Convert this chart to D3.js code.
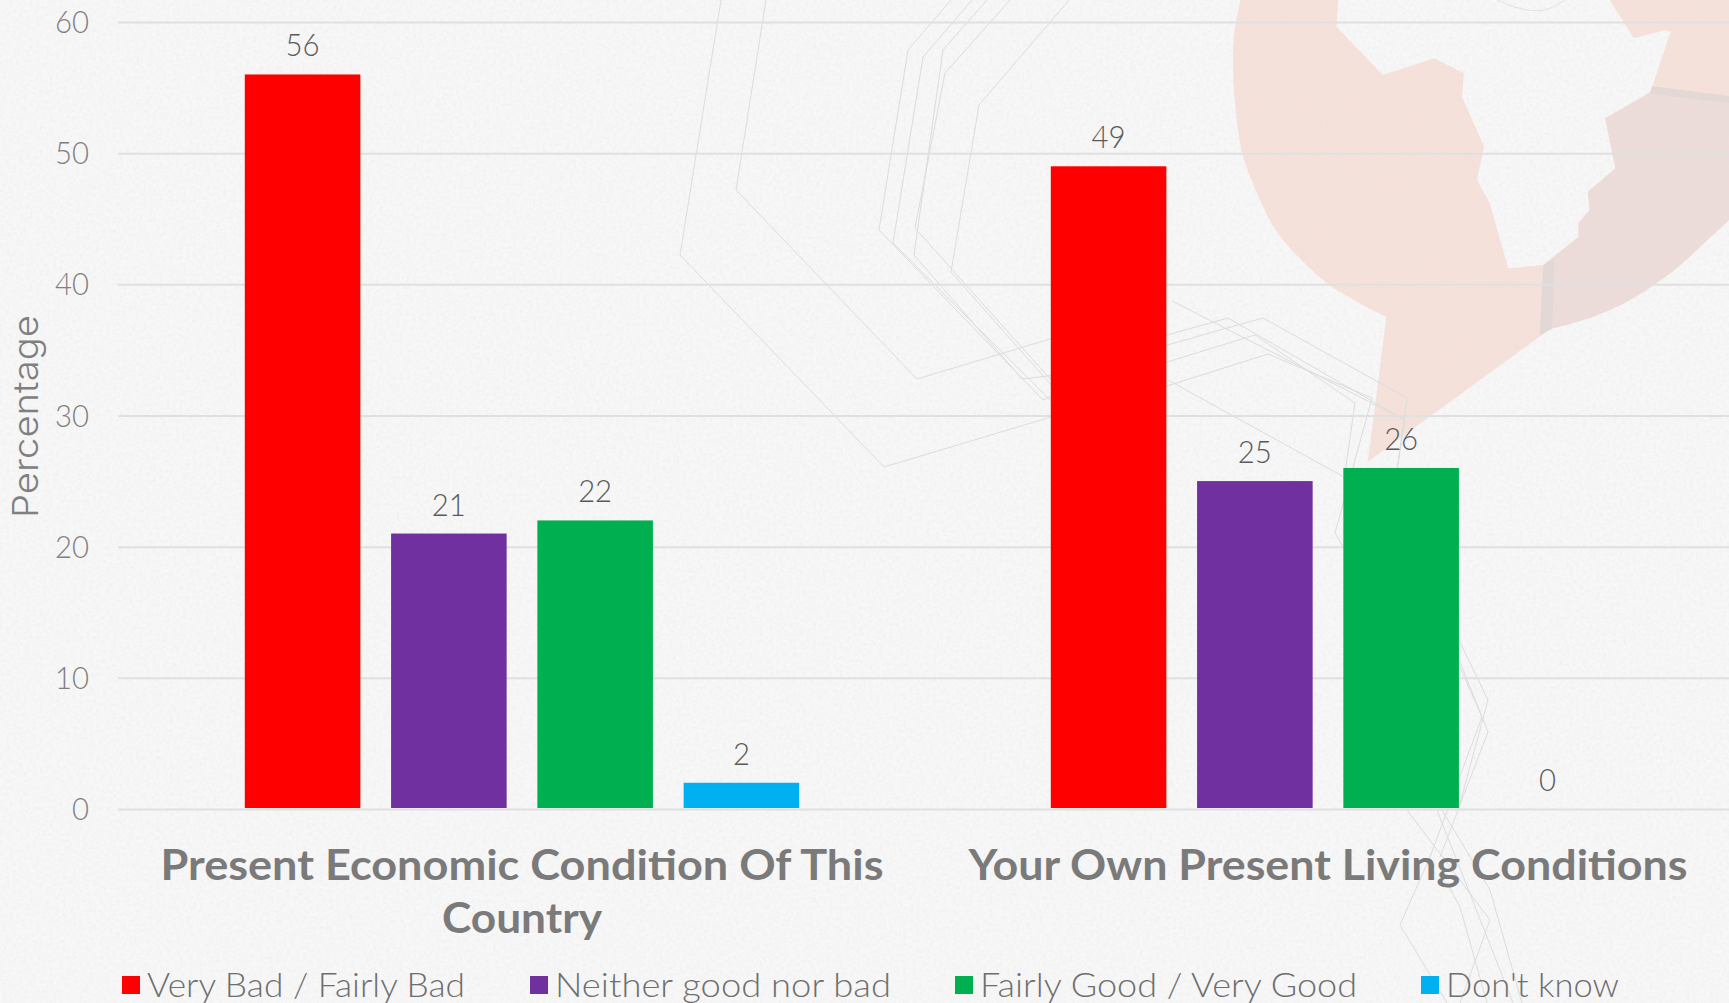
<!DOCTYPE html>
<html><head><meta charset="utf-8">
<script src="https://cdn.jsdelivr.net/npm/d3@7"></script>
<style>
html,body{margin:0;padding:0;background:#f7f7f7;overflow:hidden}
svg{display:block}
</style></head><body>
<svg id="c" width="1729" height="1003" font-family="Lato, 'Open Sans', sans-serif"></svg>
<script>
// ---- data ----
const categories = ["Present Economic Condition Of This Country", "Your Own Present Living Conditions"];
const seriesNames = ["Very Bad / Fairly Bad", "Neither good nor bad", "Fairly Good / Very Good", "Don't know"];
const veryBad = [56, 49];
const neither = [21, 25];
const fairlyGood = [22, 26];
const dontKnow = [2, 0];
const yTicks = [0, 10, 20, 30, 40, 50, 60];
const seriesColors = ["#ff0000", "#7030a0", "#00b050", "#00b0f0"];
const seriesValues = [veryBad, neither, fairlyGood, dontKnow];

// ---- layout ----
const svg = d3.select("#c");
const x0 = d3.scaleBand().domain(categories).range([119, 1731]);
const x1 = d3.scaleBand().domain(seriesNames).range([0, x0.bandwidth()]).paddingInner(0.21).paddingOuter(0.86);
const y = d3.scaleLinear().domain([0, 60]).range([809, 22]);

// ---- background decoration ----
const bg = svg.append("g");
bg.append("rect").attr("width", 1729).attr("height", 1003).attr("fill", "#f7f7f7");
const defs = svg.append("defs");
const f = defs.append("filter").attr("id", "grain").attr("x", 0).attr("y", 0).attr("width", "100%").attr("height", "100%");
f.append("feTurbulence").attr("type", "fractalNoise").attr("baseFrequency", 0.3).attr("numOctaves", 3).attr("seed", 4);
f.append("feColorMatrix").attr("type", "matrix").attr("values", "0 0 0 0 0.72  0 0 0 0 0.72  0 0 0 0 0.72  1.6 0 0 0 -0.62");

const z = p => [1150 + p[0] / 2.708, p[1] / 3];
const poly = d3.line();
const smooth = d3.line().curve(d3.curveCatmullRom);
const shape = (pts, fill) => bg.append("path").attr("d", poly(pts.map(z)) + "Z").attr("fill", fill);
const arcLeft = [[245,0],[228,100],[225,210],[232,330],[250,460],[290,580],[340,690],[410,780],[480,850],[560,905],[640,950]];
const arcRight = [[1090,985],[1200,950],[1300,900],[1420,810],[1500,730],[1568,660]];
const pinPath = smooth(arcLeft.map(z)) + poly([[590,1385],[1055,1010]].map(z)).replace("M", "L") + smooth(arcRight.map(z)).replace("M", "L");
bg.append("path").attr("d", pinPath + "L" + z([1568,0]).join(",") + "Z").attr("fill", "#f6e1da");
const darkEdge = [[1090,985],[1095,780],[1065,795],[1160,710],[1160,670],[1190,630],[1185,575],[1260,505],[1232,355],[1355,280],[1568,305],[1568,660]];
bg.append("path").attr("d", poly(darkEdge.map(z)) + smooth(arcRight.slice().reverse().map(z)).replace("M", "L") + "Z").attr("fill", "#eddcd9");
shape([[1065,795],[1095,775],[1090,985],[1055,1005]], "#e2d8d5");
shape([[1355,258],[1568,288],[1568,310],[1345,280]], "#e3d8d5");
shape([[510,0],[505,80],[630,225],[770,175],[850,220],[845,290],[905,440],[885,540],[920,610],[970,805],[1065,795],[1160,710],[1160,670],[1190,630],[1185,575],[1260,505],[1232,355],[1355,275],[1410,95],[1395,90],[1310,115],[1245,0]], "#f7f7f7");

const faint = [
 [[721,0],[680,255],[884,467],[1051,417],[1167,386],[1268,354],[1372,398],[1335,533],[1345,550]],
 [[766,0],[736,190],[917,379],[1050,339],[1167,335],[1228,318],[1405,420],[1397,470]],
 [[951,0],[908,50],[879,230],[1043,400],[1167,345],[1263,318],[1407,398],[1397,470]],
 [[972,0],[923,57],[893,243],[1060,410]],
 [[987,0],[943,50],[914,255],[1022,379],[1167,362],[1255,335],[1355,403],[1344,480]],
 [[1010,0],[945,73],[915,228],[1060,390]],
 [[1069,0],[979,105],[951,272],[1060,395]],
 [[1172,301],[1405,420]],
 [[1168,380],[1344,477]],
 [[1459,640],[1488,700],[1459,807]],
 [[1460,662],[1488,732],[1440,857]],
 [[1460,667],[1482,717],[1430,857],[1400,925],[1447,1003]],
 [[1407,810],[1490,920],[1460,1003]],
 [[1437,810],[1513,1003]],
 [[1442,810],[1490,890],[1522,1003]],
 [[1447,883],[1460,907],[1487,1003]]
];
bg.selectAll("path.faint").data(faint).join("path").attr("class","faint")
  .attr("d", poly).attr("fill","none").attr("stroke","#dcdcdc").attr("stroke-width",1);
bg.append("path").attr("d", d3.line().curve(d3.curveBasis)([[1497,0],[1515,8],[1538,12],[1552,8],[1565,0]]))
  .attr("fill","none").attr("stroke","#e2e2e2");
bg.append("rect").attr("width",1729).attr("height",1003).attr("filter","url(#grain)").attr("opacity",0.3);

// ---- y axis + gridlines ----
const yAxis = d3.axisLeft(y).tickValues(yTicks).tickSize(-(1729 - 118)).tickPadding(30);
const gy = svg.append("g").attr("transform", "translate(118,0)").call(yAxis);
gy.attr("font-family", null).attr("font-size", null);
gy.select(".domain").remove();
gy.selectAll(".tick line").attr("stroke", "#e0e0e0").attr("stroke-width", 2);
gy.selectAll(".tick text").attr("fill", "#7f7f7f").attr("font-size", 32).attr("font-weight", 300)
  .attr("textLength", 34).attr("lengthAdjust", "spacingAndGlyphs")
  .attr("text-anchor", "end").attr("x", -29).attr("dy", "0.33em");
gy.selectAll(".tick").filter(d => d === 0).select("text").attr("textLength", 17);

svg.append("text").attr("transform", "translate(38,518) rotate(-90)").text("Percentage")
  .attr("font-family", "Inter").attr("font-weight", 300).attr("font-size", 35).attr("fill", "#808080")
  .attr("textLength", 203).attr("lengthAdjust", "spacingAndGlyphs");

// ---- bars + value labels ----
const groups = svg.append("g").selectAll("g").data(categories).join("g")
  .attr("transform", d => `translate(${x0(d)},0)`);
seriesNames.forEach((name, s) => {
  groups.append("rect")
    .attr("x", x1(name)).attr("width", x1.bandwidth())
    .attr("y", (d, i) => y(seriesValues[s][i]))
    .attr("height", (d, i) => Math.max(0, y(0) - y(seriesValues[s][i]) - 1))
    .attr("fill", seriesColors[s]);
  groups.append("text")
    .attr("x", x1(name) + x1.bandwidth() / 2)
    .attr("y", (d, i) => y(seriesValues[s][i]) - 18)
    .attr("text-anchor", "middle").attr("font-size", 32).attr("font-weight", 300)
    .attr("fill", "#595959")
    .attr("textLength", (d, i) => seriesValues[s][i] < 10 ? 17 : 34)
    .attr("lengthAdjust", "spacingAndGlyphs")
    .text((d, i) => seriesValues[s][i]);
});

// ---- category labels ----
const categoryLines = [["Present Economic Condition Of This", "Country"], ["Your Own Present Living Conditions"]];
const categoryWidths = [[723, 160], [719]];
categories.forEach((c, i) => {
  categoryLines[i].forEach((line, j) => {
    svg.append("text").attr("x", x0(c) + x0.bandwidth() / 2).attr("y", 880 + j * 53)
      .attr("text-anchor", "middle").attr("font-size", 42).attr("font-weight", 700).attr("fill", "#7a7a7a")
      .attr("textLength", categoryWidths[i][j]).attr("lengthAdjust", "spacingAndGlyphs").text(line);
  });
});

// ---- legend ----
const legendX = d3.scaleOrdinal().domain(seriesNames).range([122, 530, 955, 1421]);
const legendTextW = [318, 336, 377, 173];
const legendTextGap = [25, 25, 25, 25];
const lg = svg.append("g").selectAll("g").data(seriesNames).join("g")
  .attr("transform", d => `translate(${legendX(d)},976)`);
lg.append("rect").attr("width", 18).attr("height", 18).attr("fill", (d, i) => seriesColors[i]);
lg.append("text").attr("x", (d, i) => legendTextGap[i]).attr("y", 21)
  .attr("font-size", 33).attr("font-weight", 300).attr("fill", "#6e6e6e")
  .attr("textLength", (d, i) => legendTextW[i]).attr("lengthAdjust", "spacingAndGlyphs").text(d => d);
</script>
</body></html>
